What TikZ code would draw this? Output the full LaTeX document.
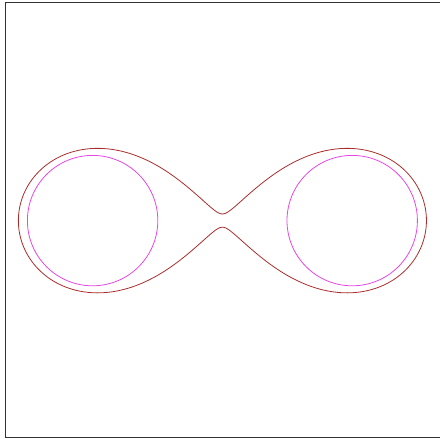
\documentclass[tikz,border=0pt]{standalone}
\usetikzlibrary{calc}
\definecolor{ovalred}{RGB}{170,45,45}
\definecolor{circmag}{RGB}{230,70,230}
\definecolor{framegray}{RGB}{50,50,50}
\begin{document}
\begin{tikzpicture}[x=1pt, y=-1pt]
    \useasboundingbox (0,0) rectangle (439,441);
    % frame, right side runs off the page
    \draw[framegray, line width=1.2pt] (5.6,2.8) rectangle (445,437.8);
    \coordinate (mid) at (222.4,220.6);
    \coordinate (lc) at (92.6,220.6);
    \coordinate (rc) at (352.2,220.6);
    \draw[circmag, line width=0.8pt] (lc) circle (65.2);
    \draw[circmag, line width=0.8pt] (rc) circle (65.2);
    % cassini oval, b slightly above a
    \draw[ovalred, line width=0.8pt, shift={(mid)}]
        plot[domain=0:360, samples=721] (\x:{144.2*sqrt(cos(2*\x)+sqrt(1.00424-sin(2*\x)^2))}) -- cycle;
\end{tikzpicture}
\end{document}
